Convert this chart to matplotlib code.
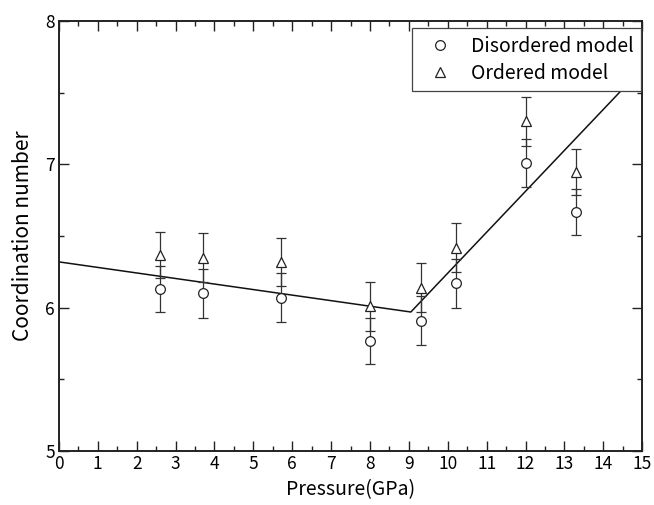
import numpy as np
import matplotlib.pyplot as plt
from matplotlib.ticker import MultipleLocator

# data
pressure = [2.6, 3.7, 5.7, 8.0, 9.3, 10.2, 12.0, 13.3]
cn_disordered = [6.13, 6.10, 6.07, 5.77, 5.91, 6.17, 7.01, 6.67]
cn_ordered = [6.37, 6.35, 6.32, 6.01, 6.14, 6.42, 7.30, 6.95]
err_disordered = [0.16, 0.17, 0.17, 0.16, 0.17, 0.17, 0.17, 0.16]
err_ordered = [0.16, 0.17, 0.17, 0.17, 0.17, 0.17, 0.17, 0.16]

# guide line (two linear segments)
line_x = [0.0, 9.05, 15.0]
line_y = [6.32, 5.97, 7.67]

plt.rcParams['font.family'] = ['Noto Sans CJK JP', 'DejaVu Sans']

fig = plt.figure(figsize=(6.54, 5.05), dpi=100)
ax = fig.add_axes([0.090, 0.107, 0.892, 0.851])

ax.plot(line_x, line_y, color='#111111', lw=1.1, zorder=2)

ax.errorbar(pressure, cn_disordered, yerr=err_disordered, fmt='o', ms=7,
            mfc='white', mec='#222222', mew=0.9, ecolor='#333333', elinewidth=0.9,
            capsize=3.3, capthick=0.9, label='Disordered model', zorder=3)
ax.errorbar(pressure, cn_ordered, yerr=err_ordered, fmt='^', ms=7.5,
            mfc='white', mec='#222222', mew=0.9, ecolor='#333333', elinewidth=0.9,
            capsize=3.3, capthick=0.9, label='Ordered model', zorder=3)

ax.set_xlim(0, 15)
ax.set_ylim(5, 8)
ax.xaxis.set_major_locator(MultipleLocator(1))
ax.xaxis.set_minor_locator(MultipleLocator(0.5))
ax.yaxis.set_major_locator(MultipleLocator(1))
ax.yaxis.set_minor_locator(MultipleLocator(0.5))
ax.tick_params(which='both', direction='in', top=True, right=True, labelsize=12.5,
               width=1.0, color='#222222')
ax.tick_params(which='major', length=7, pad=3)
ax.tick_params(which='minor', length=3.5)
for s in ax.spines.values():
    s.set_linewidth(1.4)
    s.set_color('#222222')

ax.set_xlabel('Pressure(GPa)', fontsize=14, labelpad=4)
ax.set_ylabel('Coordination number', fontsize=15, labelpad=8)

# legend handles without error bars
h, l = ax.get_legend_handles_labels()
handles = [hh[0] for hh in h]
leg = ax.legend(handles, l, loc='upper right', bbox_to_anchor=(0.998, 0.984),
                borderaxespad=0, fancybox=False, framealpha=1, edgecolor='#444444',
                fontsize=14, handletextpad=0.6, borderpad=0.4, labelspacing=0.3,
                handlelength=2.0)
leg.get_frame().set_linewidth(0.9)

fig.savefig('out.png', dpi=100)
